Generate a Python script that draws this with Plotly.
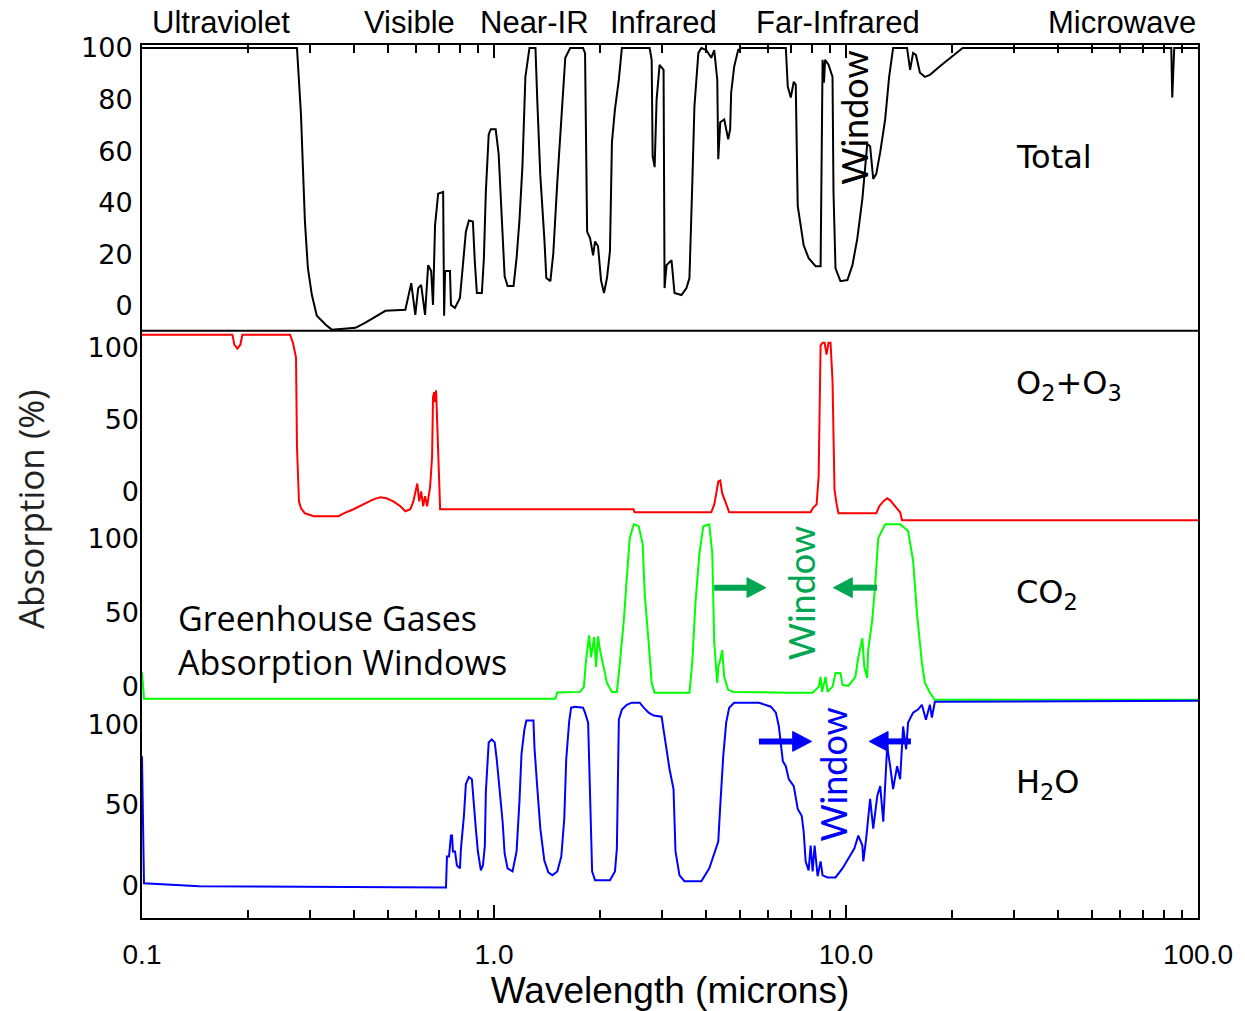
import plotly.graph_objects as go

# ---------------- data (wavelength in microns, absorption in %) ----------------
TOTAL_WL = [0.100, 0.2756, 0.2829, 0.2865, 0.2903, 0.2960, 0.3038, 0.3138, 0.3326, 0.346, 0.4042, 0.4313,
            0.4696, 0.4915, 0.560, 0.571, 0.582, 0.5976, 0.609, 0.621, 0.637, 0.650, 0.663, 0.671, 0.680,
            0.694, 0.717, 0.7216, 0.7263, 0.7497, 0.7546, 0.7745, 0.8003, 0.816, 0.832, 0.8485, 0.871,
            0.882, 0.894, 0.9237, 0.936, 0.948, 0.966, 0.979, 1.011, 1.031, 1.0445, 1.072, 1.093, 1.1365,
            1.159, 1.181, 1.2045, 1.228, 1.261, 1.3115, 1.328, 1.354, 1.390, 1.408, 1.446, 1.474, 1.513,
            1.563, 1.594, 1.646, 1.7905, 1.814, 1.839, 1.875, 1.912, 1.937, 1.975, 2.0136, 2.0534, 2.094,
            2.135, 2.163, 2.206, 2.263, 2.308, 2.768, 2.805, 2.823, 2.86, 2.897, 2.954, 3.032, 3.052,
            3.092, 3.194, 3.257, 3.409, 3.522, 3.591, 3.662, 3.710, 3.807, 3.882, 4.010, 4.142, 4.224,
            4.308, 4.336, 4.393, 4.509, 4.627, 4.687, 4.718, 4.811, 4.938, 5.035, 6.745, 6.833, 6.968,
            7.105, 7.198, 7.292, 7.436, 7.582, 7.832, 8.198, 8.469, 8.580, 8.66, 8.72, 8.920, 9.156,
            9.215, 9.336, 9.644, 10.09, 10.43, 10.77, 11.13, 11.34, 11.49, 11.71, 11.95, 12.19, 12.51,
            12.92, 13.26, 13.61, 14.91, 15.21, 15.51, 15.80, 16.22, 16.76, 17.31, 18.71, 19.97, 21.45,
            83.96, 84.5, 85.6, 100.0]
TOTAL_ABS = [100, 100, 74.2, 53.8, 32.7, 14.6, 4.2, -3.8, -7.3, -9.2, -8.5, -6.5,
             -3.5, -1.9, -1.5, 4.2, 8.8, -3.5, 6.9, 8.1, -3.5, 15.8, 13.5, 0.4, 31.2,
             43.5, 44.2, -3.8, 13.5, 13.5, 0.4, -0.8, 3.1, 15.8, 28.8, 33.1, 32.7,
             17.3, 5.0, 5.0, 18.5, 44.2, 66.5, 68.5, 68.5, 58.8, 44.2, 11.5, 7.7, 7.7,
             18.5, 33.1, 54.2, 88.8, 100, 100, 78.8, 50.4, 26.2, 10.8, 9.6, 20.4, 48.1,
             77.3, 96.2, 100, 100, 98, 28.8, 26.2, 19.6, 25, 23.1, 10, 5, 10.8,
             21.2, 63.5, 76.2, 87.7, 100, 100, 95.4, 58.1, 53.8, 80, 93.5, 91.5, 6.9,
             15.8, 17.7, 5, 4.2, 6.9, 10.8, 49.2, 77.3, 98.1, 100, 99.2, 96.2, 99.2,
             87.7, 56.9, 71.2, 72.3, 64.6, 68.5, 82.7, 92.7, 99.2, 100, 100, 85, 80.8,
             86.9, 85.8, 38.8, 31.2, 23.5, 18.5, 15.4, 15.4, 95.4, 86.5, 95.4, 93.5, 88.8,
             44.2, 14.6, 9.6, 10, 15.8, 26.2, 41.5, 55.8, 62.7, 61.9, 49.2, 51.2, 59.6,
             72.3, 88.8, 100, 100, 91.5, 98.1, 97.3, 90.4, 88.8, 89.6, 93.5, 96.5, 100,
             100, 80.8, 100, 100]

O2O3_WL = [0.100, 0.1806, 0.183, 0.1866, 0.1903, 0.1928, 0.2634, 0.2686, 0.2739, 0.2756, 0.2792,
           0.2829, 0.2903, 0.3077, 0.362, 0.374, 0.399, 0.4313, 0.4543, 0.4757, 0.4947, 0.5177,
           0.542, 0.560, 0.5785, 0.590, 0.5976, 0.6054, 0.613, 0.621, 0.629, 0.637, 0.6457, 0.6585,
           0.667, 0.671, 0.676, 0.680, 0.6847, 0.694, 0.703, 2.49, 2.51, 4.142, 4.224, 4.280, 4.336,
           4.393, 4.450, 4.538, 4.657, 7.934, 8.039, 8.251, 8.360, 8.469, 8.580, 8.692, 8.805,
           8.920, 9.037, 9.156, 9.275, 9.397, 9.520, 12.19, 12.43, 12.76, 13.09, 13.35, 13.79,
           14.25, 14.43, 100.0]
O2O3_ABS = [109, 109, 102, 99.3, 102, 109, 109, 103, 93, 31, -6.9,
            -11.7, -15.2, -17.2, -17.2, -15.2, -12.4, -8.3, -5.5, -4.1, -4.8, -6.9,
            -10.3, -13.8, -12.4, -6.9, -1.4, 5.5, -6.9, 0, -10.3, -3.4, -10.3, 3.4,
            24.1, 65.5, 69, 62, 70.3, 27.6, -12.4, -12.4, -14.5, -14.5, -9, -1.4, 6.9,
            7.6, -1.4, -6.9, -14.5, -14.5, -11.7, -9, 10.3, 101.4, 103.4, 103.4, 95.2,
            103.4, 103.4, 77.2, 1.4, -8.3, -15.2, -15.2, -10.3, -6.9, -4.8, -6.2, -10.3,
            -14.5, -20, -20]

CO2_WL = [0.100, 0.1013, 1.4935, 1.513, 1.756, 1.80, 1.826, 1.863, 1.887, 1.925, 1.950, 1.975,
          2.0007, 2.0534, 2.094, 2.163, 2.234, 2.278, 2.338, 2.384, 2.431, 2.495, 2.577, 2.645,
          2.680, 2.751, 2.805, 2.86, 3.591, 3.662, 3.734, 3.832, 3.933, 4.089, 4.170, 4.224,
          4.308, 4.336, 4.393, 4.450, 4.509, 4.627, 4.780, 6.878, 8.039, 8.360, 8.469, 8.55,
          8.748, 8.862, 9.156, 9.336, 9.644, 9.771, 10.157, 10.63, 10.84, 11.13, 11.27, 11.49,
          11.56, 11.87, 12.11, 12.35, 12.92, 14.25, 15.01, 15.51, 15.91, 16.43, 16.76, 17.31,
          17.88, 100.0]
CO2_ABS = [10, -8, -8, -3.8, -3.4, 0, 18.1, 34.9, 20.1, 33.6, 13.4, 34.2,
           24.8, 11.4, 2.7, -3.4, -3.4, 16.1, 45, 73.8, 100.7, 110, 108.7, 96.6,
           63, 29.5, 2.7, -4, -4, 18.1, 56.4, 90, 108.7, 110, 90, 29.5,
           2.7, 13.4, 18.1, 24.8, 6.7, -2, -3.4, -4, -4, 0, 6.7, -3.4,
           6.7, -3.4, 0, 9.4, 9.4, 1.3, 0.7, 6.7, 20.1, 32.9, 13.4, 6,
           24.8, 45, 69.8, 100.7, 110, 110, 105.4, 85.2, 49.7, 16.1, 2.7, -4,
           -8.7, -8.7]

H2O_WL = [0.100, 0.1013, 0.1455, 0.7304, 0.7352, 0.745, 0.7546, 0.760, 0.7644, 0.775, 0.7846,
          0.8003, 0.8056, 0.8214, 0.832, 0.8485, 0.8652, 0.8765, 0.888, 0.900, 0.9177, 0.930,
          0.942, 0.948, 0.966, 0.985, 1.0047, 1.018, 1.0377, 1.058, 1.072, 1.093, 1.129, 1.159,
          1.181, 1.197, 1.220, 1.236, 1.2945, 1.303, 1.328, 1.354, 1.390, 1.427, 1.465, 1.513,
          1.553, 1.5835, 1.604, 1.635, 1.656, 1.700, 1.7905, 1.814, 1.851, 1.875, 1.900, 1.937,
          2.135, 2.206, 2.234, 2.263, 2.308, 2.384, 2.463, 2.594, 2.663, 2.751, 2.842, 2.993,
          3.032, 3.092, 3.153, 3.236, 3.278, 3.365, 3.476, 3.882, 4.089, 4.197, 4.336, 4.393,
          4.479, 4.567, 4.657, 4.811, 5.660, 6.118, 6.321, 6.446, 6.616, 6.745, 6.878, 7.105,
          7.292, 7.485, 7.582, 7.681, 7.832, 7.934, 8.039, 8.144, 8.305, 8.469, 8.580, 8.862,
          9.336, 9.771, 10.157, 10.56, 10.84, 11.13, 11.20, 11.41, 11.71, 11.95, 12.27, 12.51,
          12.76, 13.09, 13.35, 13.61, 13.97, 14.25, 14.53, 14.82, 15.01, 15.51, 16.01, 16.43,
          16.87, 17.31, 17.54, 17.88, 100.0]
H2O_ABS = [80.2, 1.2, -0.6, -1.4, 17.9, 17.9, 30.9, 30.9, 21, 21, 12.3,
           10.5, 22.8, 43.2, 63, 67.3, 66, 48.8, 35.2, 21, 9.3, 12.3,
           24.7, 58, 88.9, 90.7, 88.9, 78.4, 58, 39.5, 19.8, 10.5, 8.6, 21,
           51.9, 81.5, 96.9, 102.5, 102.5, 85.8, 59.9, 35.2, 15.4, 8, 6.2, 8.6,
           17.9, 41.4, 78.4, 101.9, 110.5, 111.1, 110.5, 107.4, 101.2, 47.5, 8.6, 3.1,
           3.1, 8.6, 22.8, 103.1, 109.3, 112.3, 113.6, 113.6, 110.5, 107.4, 105.6, 104.9,
           96.9, 82.7, 72.2, 59.9, 21, 6.2, 2.5, 2.5, 10.5, 17.9, 27.2, 49.4,
           80.2, 101.2, 110.5, 113.6, 113.6, 111.1, 107.4, 98.8, 77.2, 74.1, 66, 61.7,
           47.5, 43.2, 33.3, 14.8, 9.3, 24.7, 8.6, 24.7, 5.6, 14.8, 6.2, 4.9,
           4.9, 10.5, 16.7, 22.8, 30.9, 24.7, 14.8, 29, 53.7, 35.2, 55.6, 61.7,
           39.5, 86.4, 74.1, 59.9, 74.1, 66, 98.8, 84.6, 101.2, 107.4, 109.3, 112.3,
           103, 112.3, 104.3, 114.2, 114.8]

X_TICKS = [0.1, 1, 10, 100]
X_TICK_TEXT = ["0.1", "1.0", "10.0", "100.0"]
X_MINOR = [0.2, 0.3, 0.4, 0.5, 0.6, 0.7, 0.8, 0.9, 2, 3, 4, 5, 6, 7, 8, 9,
           20, 30, 40, 50, 60, 70, 80, 90]
TOTAL_TICKS = [0, 20, 40, 60, 80, 100]
GAS_TICKS = [0, 50, 100]

BANDS = ["Ultraviolet", "Visible", "Near-IR", "Infrared", "Far-Infrared", "Microwave"]

# ---------------- layout geometry ----------------
W, H = 1245, 1011
L, R, T, B = 142, 40, 45, 86
PW, PH = W - L - R, H - T - B


def px(x):
    return (x - L) / PW


def py(y):
    return (H - B - y) / PH


def yrange(p0, p100):
    unit = (p0 - p100) / 100.0
    return [(p0 - (H - B)) / unit, (p0 - T) / unit]


fig = go.Figure()
fig.add_trace(go.Scatter(x=TOTAL_WL, y=TOTAL_ABS, mode="lines", yaxis="y",
                         line=dict(color="black", width=2), name="Total"))
fig.add_trace(go.Scatter(x=O2O3_WL, y=O2O3_ABS, mode="lines", yaxis="y2",
                         line=dict(color="#ff0000", width=2), name="O2+O3"))
fig.add_trace(go.Scatter(x=H2O_WL, y=H2O_ABS, mode="lines", yaxis="y4",
                         line=dict(color="#0000ff", width=2), name="H2O"))
fig.add_trace(go.Scatter(x=CO2_WL, y=CO2_ABS, mode="lines", yaxis="y3",
                         line=dict(color="#00ff00", width=2), name="CO2"))

ytick_font = dict(family="DejaVu Sans", size=27, color="black")
common_y = dict(showgrid=False, zeroline=False, ticks="", tickfont=ytick_font,
                ticklabelstandoff=2, fixedrange=True)

fig.update_layout(
    width=W, height=H, autosize=False,
    margin=dict(l=L, r=R, t=T, b=B, pad=0),
    paper_bgcolor="white", plot_bgcolor="white",
    showlegend=False,
    xaxis=dict(type="log", range=[-1, 2], tickvals=X_TICKS, ticktext=X_TICK_TEXT,
               ticks="inside", ticklen=13, tickwidth=1.5, tickcolor="black",
               showline=True, linecolor="black", linewidth=2, mirror="ticks",
               showgrid=False, zeroline=False,
               tickfont=dict(family="Liberation Sans", size=28, color="black"),
               ticklabelstandoff=10,
               minor=dict(tickvals=X_MINOR, ticks="inside", ticklen=8, tickwidth=1.5,
                          tickcolor="black", showgrid=False),
               title=dict(text="Wavelength (microns)", standoff=4,
                          font=dict(family="Liberation Sans", size=37, color="black"))),
    yaxis=dict(range=yrange(308, 48), tickvals=TOTAL_TICKS, showline=True, linecolor="black",
               linewidth=2, mirror=True, **common_y),
    yaxis2=dict(range=yrange(495, 350), tickvals=GAS_TICKS, overlaying="y", anchor="x",
                side="left", showline=False, **common_y),
    yaxis3=dict(range=yrange(692, 543), tickvals=GAS_TICKS, overlaying="y", anchor="x",
                side="left", showline=False, **common_y),
    yaxis4=dict(range=yrange(892, 730), tickvals=GAS_TICKS, overlaying="y", anchor="x",
                side="left", showline=False, **common_y),
)

# separator between Total and gas panels
fig.add_shape(type="line", xref="paper", yref="paper", x0=0, x1=1, y0=py(333), y1=py(333),
              line=dict(color="black", width=2))

ann = []
band_pos = [222, 411, 537, 667, 843, 1128]
for name, xp in zip(BANDS, band_pos):
    ann.append(dict(text=name, x=px(xp), y=py(22), xref="paper", yref="paper",
                    showarrow=False, xanchor="center", yanchor="middle",
                    font=dict(family="Liberation Sans", size=31, color="black")))

ann.append(dict(text="Absorption (%)", x=px(30), y=py(513), xref="paper", yref="paper",
                showarrow=False, textangle=-90, xanchor="center", yanchor="middle",
                font=dict(family="Open Sans", size=35, color="#222222")))

panel_font = dict(family="DejaVu Sans", size=32, color="black")
for txt, yp in [("Total", 158), ("O<sub>2</sub>+O<sub>3</sub>", 388), ("CO<sub>2</sub>", 598),
                ("H<sub>2</sub>O", 790)]:
    ann.append(dict(text=txt, x=px(1020), y=py(yp), xref="paper", yref="paper",
                    showarrow=False, xanchor="left", yanchor="middle", font=panel_font))

for xp, yp, col in [(859, 118, "black"), (805, 598, "#00a651"), (838, 780, "#0000ff")]:
    ann.append(dict(text="Window", x=px(xp), y=py(yp), xref="paper", yref="paper",
                    showarrow=False, textangle=-90, xanchor="center", yanchor="middle",
                    font=dict(family="Lato", size=36, color=col)))

ann.append(dict(text="Greenhouse Gases<br>Absorption Windows", x=px(176), y=py(645),
                xref="paper", yref="paper", showarrow=False, xanchor="left", yanchor="middle",
                align="left", font=dict(family="Open Sans", size=34, color="black")))
fig.update_layout(annotations=ann)


def arrow(x_tail, x_tip, y, col):
    head = 19 if x_tip > x_tail else -19
    xb = x_tip - head
    fig.add_shape(type="line", xref="paper", yref="paper", x0=px(x_tail), x1=px(xb),
                  y0=py(y), y1=py(y), line=dict(color=col, width=6))
    path = "M {} {} L {} {} L {} {} Z".format(px(x_tip), py(y), px(xb), py(y - 10),
                                              px(xb), py(y + 10))
    fig.add_shape(type="path", xref="paper", yref="paper", path=path,
                  fillcolor=col, line=dict(color=col, width=1))


arrow(718, 770, 592, "#00a651")
arrow(882, 838, 592, "#00a651")
arrow(763, 816, 747, "#0000ff")
arrow(916, 874, 747, "#0000ff")

fig.write_html("out.html")
